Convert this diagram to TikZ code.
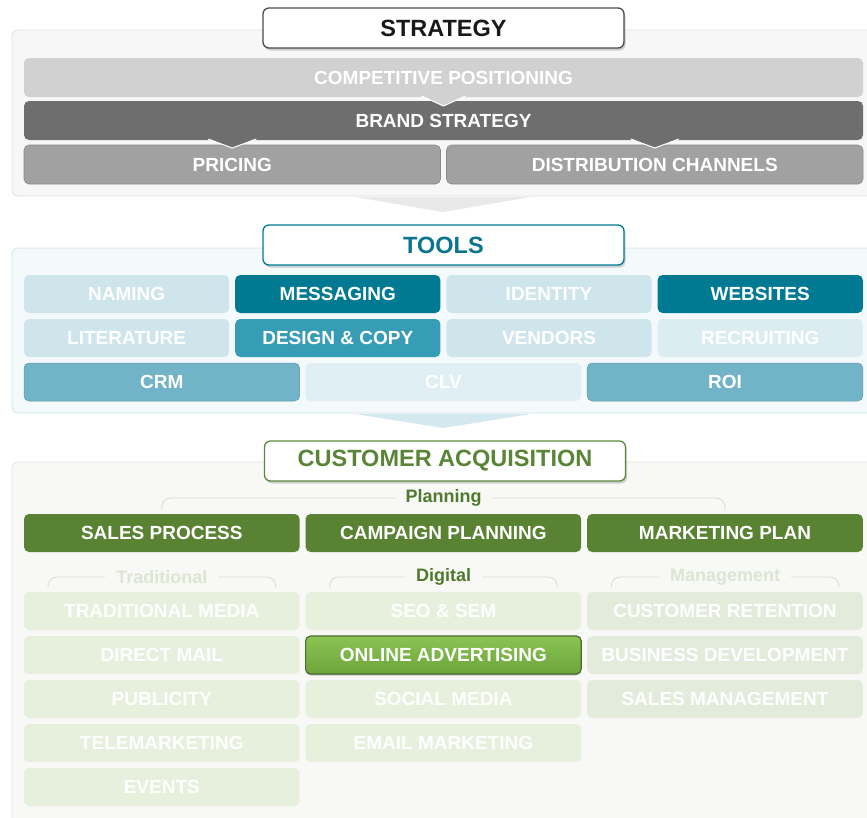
\documentclass[tikz,border=0pt]{standalone}
\usepackage{fontspec}
\setmainfont{Liberation Sans}
\usetikzlibrary{positioning,calc,shadows}

\definecolor{panelgray}{HTML}{F7F7F7}
\definecolor{panelgrayline}{HTML}{E0E0E0}
\definecolor{chevgray}{HTML}{E9E9E9}
\definecolor{titlegray}{HTML}{4A4A4A}
\definecolor{compgray}{HTML}{D1D1D1}
\definecolor{brandgray}{HTML}{6D6E6D}
\definecolor{pricegray}{HTML}{A1A1A1}
\definecolor{panelblue}{HTML}{F4F9FB}
\definecolor{panelblueline}{HTML}{CFE5EC}
\definecolor{chevblue}{HTML}{D4E9EF}
\definecolor{tealtext}{HTML}{0B7590}
\definecolor{tealdark}{HTML}{007A93}
\definecolor{tealmid}{HTML}{379DB6}
\definecolor{teallight}{HTML}{CFE5EC}
\definecolor{tealpale}{HTML}{DCEDF1}
\definecolor{tealsoft}{HTML}{71B4C8}
\definecolor{tealclv}{HTML}{E0EFF3}
\definecolor{panelgreen}{HTML}{F8F8F6}
\definecolor{panelgreenline}{HTML}{E4E4DF}
\definecolor{greentitle}{HTML}{5B8A3C}
\definecolor{greentext}{HTML}{588536}
\definecolor{greendark}{HTML}{598233}
\definecolor{greenlabel}{HTML}{4E7A2E}
\definecolor{greenfaint}{HTML}{DCE6D3}
\definecolor{greenpale}{HTML}{E6F0DC}
\definecolor{greenmgmt}{HTML}{E3ECDA}
\definecolor{onlinetop}{HTML}{8AC452}
\definecolor{onlinebot}{HTML}{6DA43C}
\definecolor{onlineline}{HTML}{4A6A30}
\definecolor{bracketline}{HTML}{DADAD5}

\begin{document}
\begin{tikzpicture}[
   x=1pt, y=-1pt,
   every node/.append style={text=white, inner sep=0pt, outer sep=0pt,
      font=\bfseries\fontsize{19}{21}\selectfont},
   cell/.style={rounded corners=5pt, minimum height=38pt},
   wone/.style={minimum width=839pt},
   wtwo/.style={minimum width=416.5pt},
   wthree/.style={minimum width=275.6pt},
   wfour/.style={minimum width=205.2pt},
   titlebox/.style={rounded corners=6pt, fill=white, line width=1.3pt,
      minimum width=361pt, minimum height=40pt,
      font=\bfseries\fontsize{23.5}{25}\selectfont,
      drop shadow={shadow xshift=1.5pt, shadow yshift=-2.5pt, opacity=0.35}},
   panel/.style={rounded corners=6pt, line width=0.8pt},
   notch/.style={white, line width=1pt},
   bracket/.style={bracketline, line width=0.8pt, rounded corners=9pt},
   lbl/.style={font=\bfseries\fontsize{18}{20}\selectfont, fill=panelgreen, inner xsep=11pt, inner ysep=1pt}
]
\useasboundingbox (0,0) rectangle (867,817);
\clip (0,0) rectangle (867,817);

% strategy
\draw[panel, fill=panelgray, draw=panelgrayline] (12,30) rectangle (890,196);
\fill[chevgray] (355,197) -- (531,197) -- (443,212) -- cycle;
\node[titlebox, draw=titlegray, text=black!90] (strategy) at (443.5,28) {STRATEGY};
\node[cell, wone, fill=compgray, minimum height=39pt] (comppos) at (443.5,77.5) {COMPETITIVE POSITIONING};
\node[cell, wone, fill=brandgray, minimum height=39pt, below=4pt of comppos] (brand) {BRAND STRATEGY};
\node[cell, wtwo, fill=pricegray, draw=pricegray!85!black, line width=0.6pt, minimum height=39pt,
      anchor=north west] (pricing) at ($(brand.south west)+(0,5)$) {PRICING};
\node[cell, wtwo, fill=pricegray, draw=pricegray!85!black, line width=0.6pt, minimum height=39pt,
      right=6pt of pricing] (distrib) {DISTRIBUTION CHANNELS};
\draw[notch, fill=compgray] ($(comppos.south)+(-22,-1)$) -- ($(comppos.south)+(0,9)$) -- ($(comppos.south)+(22,-1)$);
\draw[notch, fill=brandgray] ($(brand.south -| pricing)+(-24,-1)$) -- ($(brand.south -| pricing)+(0,8)$) -- ($(brand.south -| pricing)+(24,-1)$);
\draw[notch, fill=brandgray] ($(brand.south -| distrib)+(-24,-1)$) -- ($(brand.south -| distrib)+(0,8)$) -- ($(brand.south -| distrib)+(24,-1)$);

% tools
\draw[panel, fill=panelblue, draw=panelblueline] (12,248) rectangle (890,413);
\fill[chevblue] (355,414) -- (531,414) -- (443,428) -- cycle;
\node[titlebox, draw=tealdark, text=tealtext] (tools) at (443.5,245) {TOOLS};
\node[cell, wfour, fill=teallight] (naming) at (126.6,294) {NAMING};
\node[cell, wfour, fill=tealdark, right=6pt of naming] (messaging) {MESSAGING};
\node[cell, wfour, fill=teallight, right=6pt of messaging] (identity) {IDENTITY};
\node[cell, wfour, fill=tealdark, right=6pt of identity] (websites) {WEBSITES};
\node[cell, wfour, fill=teallight, below=6pt of naming] (literature) {LITERATURE};
\node[cell, wfour, fill=tealmid, below=6pt of messaging] (design) {DESIGN \& COPY};
\node[cell, wfour, fill=teallight, below=6pt of identity] (vendors) {VENDORS};
\node[cell, wfour, fill=tealpale, below=6pt of websites] (recruiting) {RECRUITING};
\node[cell, wthree, fill=tealsoft, draw=tealsoft!85!black, line width=0.5pt] (crm) at (161.8,382) {CRM};
\node[cell, wthree, fill=tealclv, right=6pt of crm] (clv) {CLV};
\node[cell, wthree, fill=tealsoft, draw=tealsoft!85!black, line width=0.5pt, right=6pt of clv] (roi) {ROI};

% customer acquisition
\draw[panel, fill=panelgreen, draw=panelgreenline] (12,462) rectangle (890,840);
\node[titlebox, draw=greentitle, text=greentext] (acq) at (445,461) {CUSTOMER ACQUISITION};
\node[cell, wthree, fill=greendark] (sales) at (161.8,533) {SALES PROCESS};
\node[cell, wthree, fill=greendark, right=6pt of sales] (campaign) {CAMPAIGN PLANNING};
\node[cell, wthree, fill=greendark, right=6pt of campaign] (marketing) {MARKETING PLAN};

\node[cell, wthree, fill=greenpale] (tradmedia) at (161.8,611) {TRADITIONAL MEDIA};
\node[cell, wthree, fill=greenpale, below=6pt of tradmedia] (directmail) {DIRECT MAIL};
\node[cell, wthree, fill=greenpale, below=6pt of directmail] (publicity) {PUBLICITY};
\node[cell, wthree, fill=greenpale, below=6pt of publicity] (telemarketing) {TELEMARKETING};
\node[cell, wthree, fill=greenpale, below=6pt of telemarketing] (events) {EVENTS};
\node[cell, wthree, fill=greenpale, right=6pt of tradmedia] (seo) {SEO \& SEM};
\node[cell, wthree, top color=onlinetop, bottom color=onlinebot,
      draw=onlineline, line width=1.2pt,
      drop shadow={shadow xshift=0pt, shadow yshift=-1.5pt, opacity=0.45},
      below=6pt of seo] (online) {ONLINE ADVERTISING};
\node[cell, wthree, fill=greenpale, below=6pt of online] (social) {SOCIAL MEDIA};
\node[cell, wthree, fill=greenpale, below=6pt of social] (email) {EMAIL MARKETING};
\node[cell, wthree, fill=greenmgmt, right=6pt of seo] (retention) {CUSTOMER RETENTION};
\node[cell, wthree, fill=greenmgmt, below=6pt of retention] (busdev) {BUSINESS DEVELOPMENT};
\node[cell, wthree, fill=greenmgmt, below=6pt of busdev] (salesmgmt) {SALES MANAGEMENT};

\coordinate (plan) at (443.5,498);
\coordinate (trad) at (161.8,577);
\coordinate (digi) at (443.5,577);
\coordinate (mgmt) at (725.2,577);
\draw[bracket] ($(sales.north)+(0,-4)$) |- (plan) -| ($(marketing.north)+(0,-4)$);
\draw[bracket] ($(tradmedia.north west)+(24,-5)$) |- (trad) -| ($(tradmedia.north east)+(-24,-5)$);
\draw[bracket] ($(seo.north west)+(24,-5)$) |- (digi) -| ($(seo.north east)+(-24,-5)$);
\draw[bracket] ($(retention.north west)+(24,-5)$) |- (mgmt) -| ($(retention.north east)+(-24,-5)$);
\node[lbl, text=greenlabel] (planlbl) at (plan) {Planning};
\node[lbl, text=greenfaint] (tradlbl) at (trad) {Traditional};
\node[lbl, text=greenlabel] (digilbl) at (digi) {Digital};
\node[lbl, text=greenfaint] (mgmtlbl) at (mgmt) {Management};
\end{tikzpicture}
\end{document}
